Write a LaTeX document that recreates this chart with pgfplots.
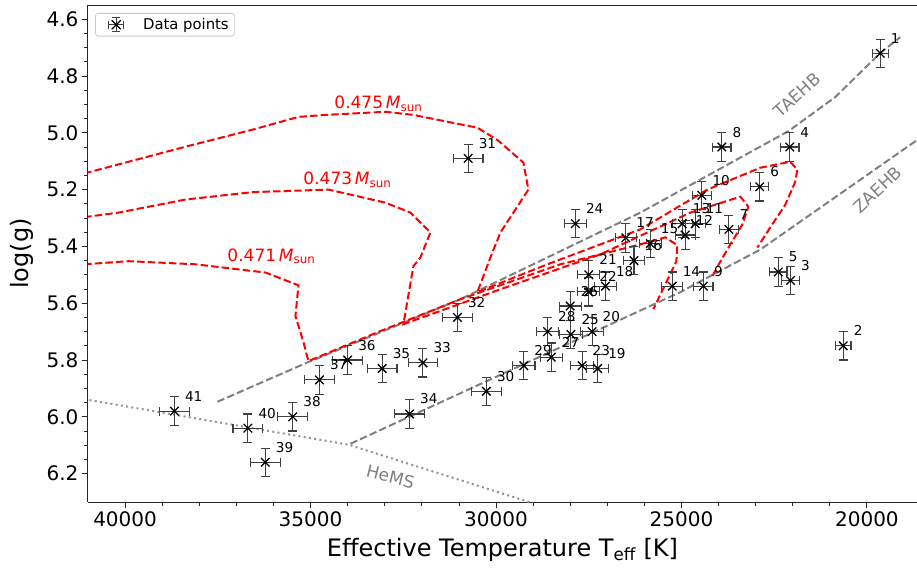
\documentclass[border=0pt]{standalone}
\usepackage{fontspec}
\setmainfont{DejaVu Sans}
\usepackage{pgfplots}
\usepackage{pgfplotstable}
\pgfplotsset{compat=1.18}

\definecolor{errgray}{rgb}{0.25,0.25,0.25}
\definecolor{linegray}{rgb}{0.5,0.5,0.5}
\definecolor{trackred}{rgb}{1,0,0}

% Teff, log g, errors, label
\pgfplotstableread{
T g dT dg lbl
19640 4.72 220 0.05 1
20640 5.75 210 0.05 2
22060 5.52 240 0.05 3
22080 5.05 250 0.05 4
22390 5.49 235 0.05 5
22890 5.19 240 0.05 6
23720 5.34 250 0.05 7
23910 5.05 245 0.05 8
24410 5.54 260 0.05 9
24450 5.22 260 0.05 10
24630 5.32 270 0.05 11
24900 5.36 270 0.05 12
24980 5.32 270 0.05 13
25250 5.54 280 0.05 14
25840 5.39 290 0.05 15
26280 5.45 290 0.05 16
26500 5.37 290 0.05 17
27050 5.54 300 0.05 18
27260 5.83 300 0.05 19
27410 5.70 300 0.05 20
27500 5.50 300 0.05 21
27500 5.56 300 0.05 22
27680 5.82 300 0.05 23
27860 5.32 300 0.05 24
27980 5.71 300 0.05 25
28000 5.61 300 0.05 26
28510 5.79 300 0.05 27
28610 5.70 300 0.05 28
29250 5.82 300 0.05 29
30260 5.91 400 0.05 30
30750 5.09 400 0.05 31
31040 5.65 400 0.05 32
31970 5.81 400 0.05 33
32330 5.99 400 0.05 34
33070 5.83 400 0.05 35
34000 5.80 400 0.05 36
34760 5.87 400 0.05 37
35480 6.00 400 0.05 38
36220 6.16 400 0.05 39
36690 6.04 400 0.05 40
38670 5.98 400 0.05 41
}\stars

\begin{document}
\begin{tikzpicture}
\begin{axis}[
  name=ax,
  scale only axis, width=829pt, height=497pt,
  x dir=reverse, y dir=reverse,
  xmin=18650, xmax=41000, ymin=4.55, ymax=6.3,
  axis x line*=box, axis y line*=left,
  xtick pos=left,
  xtick={20000,25000,30000,35000,40000}, minor x tick num=4,
  ytick={4.6,4.8,5.0,5.2,5.4,5.6,5.8,6.0,6.2}, minor y tick num=3,
  tick align=outside,
  major tick length=6pt, minor tick length=3.5pt,
  every tick/.style={black!85, line width=1pt},
  minor tick style={line width=0.8pt},
  axis line style={black!85, line width=1pt},
  scaled x ticks=false, scaled y ticks=false,
  /pgf/number format/assume math mode=true,
  x tick label style={/pgf/number format/.cd, fixed, 1000 sep={}},
  y tick label style={/pgf/number format/.cd, fixed, fixed zerofill, precision=1},
  tick label style={font=\fontsize{20}{24}\selectfont},
  xlabel={Effective Temperature T\textsubscript{eff} [K]},
  ylabel={log(g)},
  label style={font=\fontsize{24}{28}\selectfont},
  xlabel style={at={(axis description cs:0.5,-0.0966)}, anchor=center},
  ylabel style={at={(axis description cs:-0.0796,0.5)}, anchor=center},
  legend style={at={(axis description cs:0.0084,0.984)}, anchor=north west,
    draw=black!20, fill=white, rounded corners=3pt, line width=0.8pt,
    font=\fontsize{14.8}{17}\selectfont, inner xsep=4pt, inner ysep=3pt},
  legend cell align=left,
]

% helium main sequence
\addplot[forget plot, linegray!85, line width=2pt, dash pattern=on 2pt off 3.3pt]
  coordinates {(41100,5.938) (33979,6.098) (29154,6.298) (28900,6.31)};
% terminal-age EHB
\addplot[forget plot, linegray, line width=2pt, dash pattern=on 7.4pt off 3.2pt]
  coordinates {(37509,5.947) (35057,5.807) (30960,5.586) (28615,5.439)
               (26108,5.281) (22113,4.994) (20852,4.874) (19639,4.719) (19100,4.663)};
% zero-age EHB
\addplot[forget plot, linegray, line width=2pt, dash pattern=on 7.4pt off 3.2pt]
  coordinates {(33925,6.095) (25030,5.561) (24032,5.491) (22873,5.411) (18642,5.025) (18500,5.012)};

% evolutionary tracks
\addplot[forget plot, trackred, line width=2pt, dash pattern=on 7.4pt off 3.2pt]
  coordinates {(41100,5.143) (38372,5.049) (36566,4.989) (35326,4.944) (34598,4.937)
    (32982,4.926) (32227,4.937) (31311,4.961) (30502,4.982) (29963,5.025)
    (29262,5.105) (29127,5.200) (29531,5.281) (29881,5.351) (30151,5.439)
    (30502,5.561) (28615,5.463) (26108,5.340) (24302,5.200) (22874,5.123)
    (22066,5.102) (21877,5.130) (21931,5.172) (22200,5.253) (22605,5.333) (22955,5.404)};
\addplot[forget plot, trackred, line width=2pt, dash pattern=on 7.4pt off 3.2pt]
  coordinates {(41100,5.297) (40178,5.281) (38372,5.235) (36566,5.209) (34517,5.200)
    (32981,5.246) (32307,5.281) (31768,5.351) (32038,5.439) (32227,5.470)
    (32496,5.674) (29881,5.551) (27186,5.428) (24760,5.281) (23412,5.225)
    (23197,5.260) (23358,5.323) (23682,5.393) (23951,5.453) (24167,5.505)};
\addplot[forget plot, trackred, line width=2pt, dash pattern=on 7.4pt off 3.2pt]
  coordinates {(41100,5.463) (39908,5.452) (38102,5.463) (36215,5.492) (35326,5.537)
    (35407,5.645) (35191,5.737) (35057,5.804) (33116,5.698) (30960,5.586)
    (28264,5.463) (26108,5.393) (25434,5.368) (25111,5.396) (25138,5.453)
    (25434,5.533) (25757,5.621)};

% measured stars
\addplot[only marks, mark=x, mark size=6pt, mark options={line width=1.3pt, black},
  nodes near coords, point meta=explicit symbolic,
  every node near coord/.append style={anchor=base west, xshift=10pt, yshift=10pt,
    inner sep=0pt, black, font=\fontsize{13.6}{16}\selectfont},
  legend image code/.code={
    \path (-9pt,0pt) (32pt,0pt);
    \draw[errgray, line width=1.1pt] (0pt,0pt)--(15pt,0pt) (0pt,-4pt)--(0pt,4pt)
      (15pt,-4pt)--(15pt,4pt) (7.5pt,-7pt)--(7.5pt,7pt)
      (3.5pt,-7pt)--(11.5pt,-7pt) (3.5pt,7pt)--(11.5pt,7pt);
    \draw[black, line width=1.3pt] (3pt,-4.5pt)--(12pt,4.5pt) (3pt,4.5pt)--(12pt,-4.5pt);
  },
  error bars/.cd, x dir=both, x explicit, y dir=both, y explicit,
  error bar style={errgray, line width=1.1pt},
  error mark options={rotate=90, errgray, mark size=4.5pt, line width=1.1pt}]
  table[x=T, y=g, x error=dT, y error=dg, meta=lbl] {\stars};
\addlegendentry{Data points}

% annotations
\node[trackred, font=\fontsize{17}{20}\selectfont] at (axis cs:33170,4.898)
  {0.475\,\textit{M}\textsubscript{sun}};
\node[trackred, font=\fontsize{17}{20}\selectfont] at (axis cs:34005,5.165)
  {0.473\,\textit{M}\textsubscript{sun}};
\node[trackred, font=\fontsize{17}{20}\selectfont] at (axis cs:36054,5.435)
  {0.471\,\textit{M}\textsubscript{sun}};
\node[linegray, rotate=42, font=\fontsize{17}{20}\selectfont] at (axis cs:21881,4.867) {TAEHB};
\node[linegray, rotate=43, font=\fontsize{17}{20}\selectfont] at (axis cs:19720,5.20) {ZAEHB};
\node[linegray, rotate=-14, font=\fontsize{17}{20}\selectfont] at (axis cs:32846,6.211) {HeMS};
\end{axis}
\pgfresetboundingbox
\path[use as bounding box] ([xshift=-88pt,yshift=-69pt]ax.south west) rectangle ([yshift=5pt]ax.north east);
\end{tikzpicture}
\end{document}
